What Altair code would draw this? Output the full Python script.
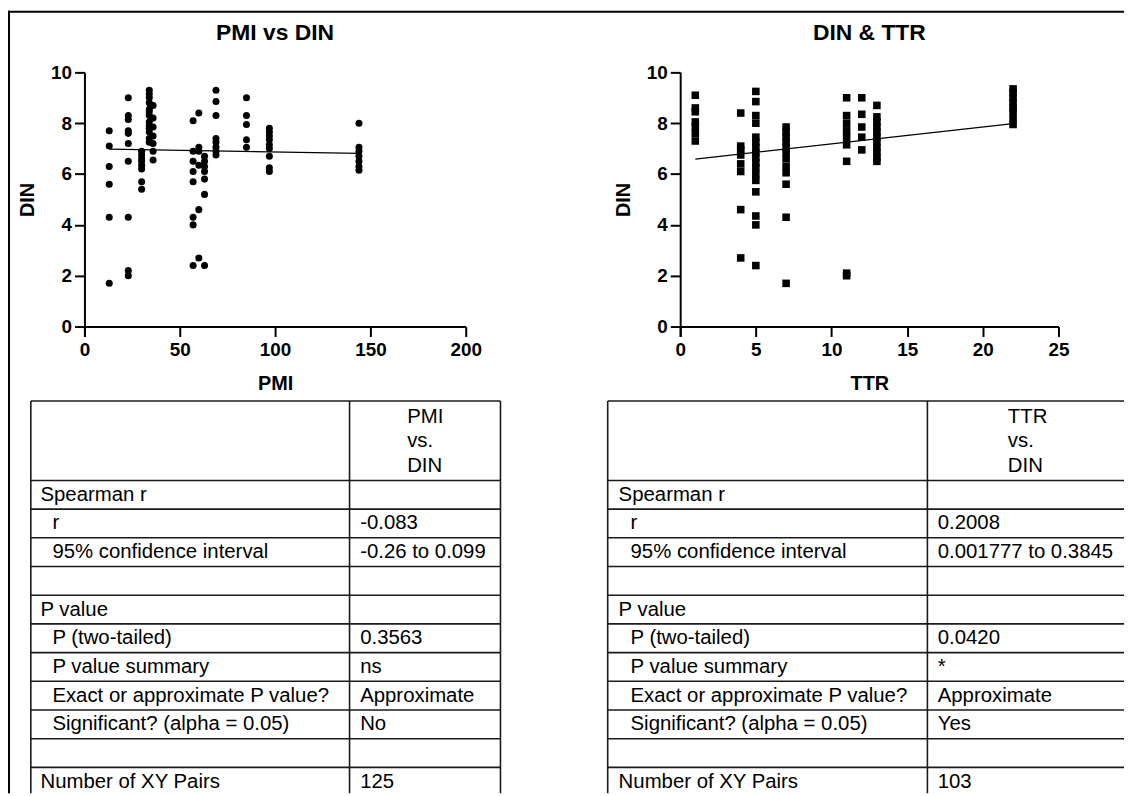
import altair as alt
import pandas as pd

# ---------------- data ----------------
pmi_levels = [13, 23, 30, 34, 36, 57, 60, 63, 69, 85, 97, 144]
pmi_din_by_level = [
    [7.7, 7.1, 6.3, 5.6, 4.3, 1.7],
    [9.0, 8.3, 8.15, 7.7, 7.6, 7.2, 6.5, 4.3, 2.2, 2.0],
    [6.9, 6.75, 6.6, 6.5, 6.35, 6.2, 5.7, 5.4],
    [9.3, 9.15, 9.0, 8.8, 8.55, 8.45, 8.3, 8.05, 7.9, 7.8, 7.65, 7.4, 7.25],
    [8.7, 8.2, 7.85, 7.5, 7.2, 6.9, 6.55],
    [8.1, 6.9, 6.5, 6.1, 5.7, 4.3, 4.0, 2.4],
    [8.4, 7.05, 6.9, 6.35, 4.6, 2.7],
    [6.7, 6.5, 6.3, 6.1, 5.8, 5.2, 2.4],
    [9.3, 8.85, 8.3, 7.4, 7.25, 7.05, 6.9, 6.75],
    [9.0, 8.3, 7.95, 7.35, 7.05],
    [7.8, 7.65, 7.5, 7.35, 7.15, 7.0, 6.7, 6.25, 6.1],
    [8.0, 7.05, 6.9, 6.7, 6.5, 6.3, 6.15],
]
ttr_levels = [1, 4, 5, 7, 11, 12, 13, 22]
ttr_din_by_level = [
    [9.1, 8.6, 8.45, 8.05, 7.85, 7.6, 7.3],
    [8.4, 7.1, 6.95, 6.75, 6.4, 6.1, 4.6, 2.7],
    [9.25, 8.85, 8.3, 8.0, 7.45, 7.25, 7.05, 6.85, 6.65, 6.45, 6.25, 6.0, 5.75, 5.3, 4.35, 4.0, 2.4],
    [7.85, 7.65, 7.45, 7.25, 7.05, 6.85, 6.6, 6.3, 6.05, 5.6, 4.3, 1.7],
    [9.0, 8.3, 8.0, 7.7, 7.45, 7.15, 6.5, 2.1, 2.0],
    [9.0, 8.35, 7.85, 7.45, 6.95],
    [8.7, 8.25, 8.05, 7.85, 7.65, 7.45, 7.25, 7.05, 6.85, 6.65, 6.5],
    [9.35, 9.2, 9.0, 8.8, 8.6, 8.45, 8.18, 7.95],
]
pmi_fit_x = [13, 144]
pmi_fit_din = [6.98, 6.81]
ttr_fit_x = [1, 22]
ttr_fit_din = [6.59, 7.98]

pmi_ticks = [0, 50, 100, 150, 200]
ttr_ticks = [0, 5, 10, 15, 20, 25]
din_ticks = [0, 2, 4, 6, 8, 10]

row_labels = ["Spearman r", "r", "95% confidence interval", "", "P value",
              "P (two-tailed)", "P value summary", "Exact or approximate P value?",
              "Significant? (alpha = 0.05)", "", "Number of XY Pairs"]
row_indent = [0, 1, 1, 0, 0, 1, 1, 1, 1, 0, 0]
pmi_values = ["", "-0.083", "-0.26 to 0.099", "", "", "0.3563", "ns",
              "Approximate", "No", "", "125"]
ttr_values = ["", "0.2008", "0.001777 to 0.3845", "", "", "0.0420", "*",
              "Approximate", "Yes", "", "103"]
pmi_header = ["PMI", "vs.", "DIN"]
ttr_header = ["TTR", "vs.", "DIN"]

# ---------------- layout ----------------
W, H = 1124, 788
FONT = "Liberation Sans"
Y_DOMAIN = [-0.39, 10]
Y_RANGE = [328, 62]
AXIS_Y = 318
L_X_RANGE = [77, 461]
R_X_RANGE = [677, 1058]
ROW_TOP, ROW_H = 473, 28.9
HEADER_TOP = -2.77
HEADER_LINES = [-2.225, -1.36, -0.495]
BOTTOM = (H - ROW_TOP) / ROW_H
LINE_COLOR = "#1a1a1a"


def flatten(levels, groups):
    xs, ys = [], []
    for lv, g in zip(levels, groups):
        for v in g:
            xs.append(lv)
            ys.append(v)
    return xs, ys


def scatter(levels, groups, fit_x, fit_y, xname, xdom, xticks, xrange, shape, size, title):
    xs, ys = flatten(levels, groups)
    df = pd.DataFrame({xname: xs, "DIN": ys})
    xsc = alt.Scale(domain=xdom, range=xrange, nice=False, zero=False)
    ysc = alt.Scale(domain=Y_DOMAIN, range=Y_RANGE, nice=False, zero=False)
    common = dict(domainColor="black", domainWidth=2, tickColor="black", tickWidth=2,
                  tickSize=10, grid=False, labelFont=FONT, labelFontSize=19,
                  labelFontWeight="bold", labelColor="black", labelFlush=False,
                  labelOverlap=False, titleFont=FONT, titleFontSize=20,
                  titleFontWeight="bold", titleColor="black", format="d")
    xaxis = alt.Axis(orient="bottom", offset=AXIS_Y - H, values=xticks, labelPadding=4,
                     title=xname, titleY=57, titleBaseline="middle", **common)
    yaxis = alt.Axis(orient="left", offset=-xrange[0], values=din_ticks, labelPadding=3,
                     title="DIN", titleX=-57.5, titleY=190,
                     titleAngle=270, titleBaseline="middle", titleAlign="center", **common)
    pts = alt.Chart(df).mark_point(shape=shape, filled=True, size=size, color="black",
                                   opacity=1).encode(
        x=alt.X(f"{xname}:Q", scale=xsc, axis=xaxis),
        y=alt.Y("DIN:Q", scale=ysc, axis=yaxis),
    )
    fit = alt.Chart(pd.DataFrame({xname: fit_x, "DIN": fit_y})).mark_line(
        color="black", strokeWidth=1.3).encode(
        x=alt.X(f"{xname}:Q", scale=xsc), y=alt.Y("DIN:Q", scale=ysc))
    ttl = alt.Chart(pd.DataFrame({"t": [title]})).mark_text(
        font=FONT, fontSize=23, fontWeight="bold", color="black",
        align="center", baseline="middle").encode(
        x=alt.XDatum((xdom[0] + xdom[1]) / 2, scale=xsc),
        y=alt.YDatum(11.56, scale=ysc),
        text="t:N")
    return alt.layer(pts, fit, ttl)


def table(values, header, x0, span, edges, label_x, indent_dx, value_x, header_x):
    tx = alt.Scale(domain=[0, span], range=[x0, x0 + span], nice=False, zero=False)
    ty = alt.Scale(domain=[0, 10], range=[ROW_TOP, ROW_TOP + 10 * ROW_H], nice=False, zero=False)
    rules = []
    for b in [HEADER_TOP] + list(range(0, len(row_labels))):
        rules.append({"x": 0, "x2": span, "y": b, "y2": b})
    for e in edges:
        rules.append({"x": e, "x2": e, "y": HEADER_TOP, "y2": BOTTOM})
    texts = []
    for i, (lab, ind, val) in enumerate(zip(row_labels, row_indent, values)):
        if lab:
            texts.append({"x": label_x + indent_dx * ind, "y": i + 0.5, "t": lab})
        if val:
            texts.append({"x": value_x, "y": i + 0.5, "t": val})
    for yy, h in zip(HEADER_LINES, header):
        texts.append({"x": header_x, "y": yy, "t": h})
    r = alt.Chart(pd.DataFrame(rules)).mark_rule(color=LINE_COLOR, strokeWidth=1.6).encode(
        x=alt.X("x:Q", scale=tx, axis=None), x2="x2:Q",
        y=alt.Y("y:Q", scale=ty, axis=None), y2="y2:Q")
    t = alt.Chart(pd.DataFrame(texts)).mark_text(
        font=FONT, fontSize=20.5, color="black", align="left", baseline="middle").encode(
        x=alt.X("x:Q", scale=tx, axis=None), y=alt.Y("y:Q", scale=ty, axis=None), text="t:N")
    return alt.layer(r, t)


left_sc = scatter(pmi_levels, pmi_din_by_level, pmi_fit_x, pmi_fit_din, "PMI", [0, 200],
                  pmi_ticks, L_X_RANGE, "circle", 50, "PMI vs DIN")
right_sc = scatter(ttr_levels, ttr_din_by_level, ttr_fit_x, ttr_fit_din, "TTR", [0, 25],
                   ttr_ticks, R_X_RANGE, "square", 58, "DIN & TTR")
left_tb = table(pmi_values, pmi_header, 23, 473, [0, 321, 473], 9.7, 12, 331.7, 379)
right_tb = table(ttr_values, ttr_header, 604, 520, [0, 322], 11, 12, 332.4, 403)

frame_df = pd.DataFrame({"k": [0]})
frame_top = alt.Chart(frame_df).mark_rule(color="black", strokeWidth=2).encode(
    x=alt.value(0), x2=alt.value(W), y=alt.value(1))
frame_left = alt.Chart(frame_df).mark_rule(color="black", strokeWidth=2).encode(
    x=alt.value(1), y=alt.value(0), y2=alt.value(H))

chart = alt.layer(left_sc, right_sc, left_tb, right_tb, frame_top, frame_left).resolve_scale(
    x="independent", y="independent"
).properties(
    width=W, height=H, padding=0,
    autosize=alt.AutoSizeParams(type="none"),
    background="white",
).configure_view(stroke=None)

chart.save("out.html", embed_options={"renderer": "svg", "actions": False})
